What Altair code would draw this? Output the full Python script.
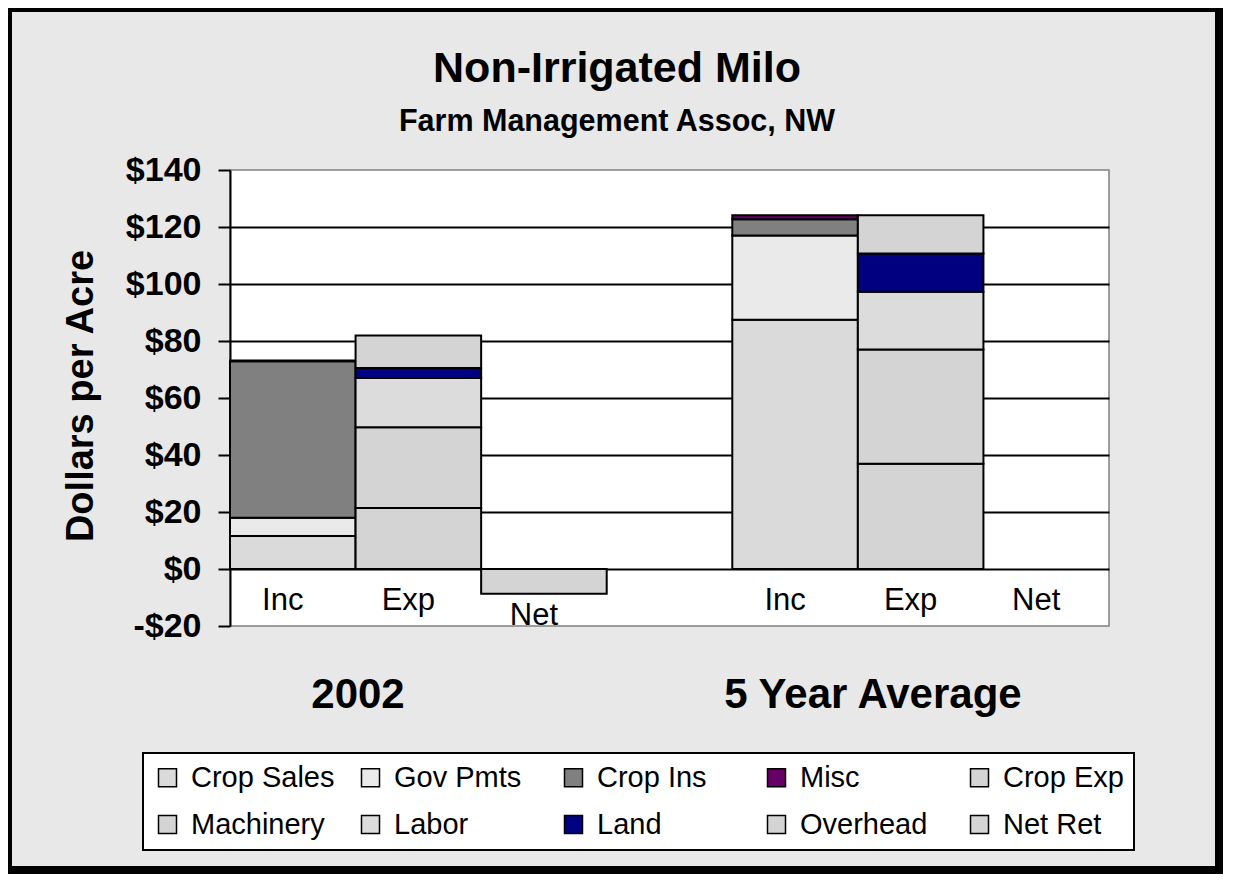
import altair as alt
import pandas as pd

FONT = "Liberation Sans"

# ---- data ----
periods = ["2002", "5 Year Average"]
bar_kinds = ["Inc", "Exp", "Net"]

crop_sales = [11.6, 87.5]
gov_pmts = [6.4, 29.5]
crop_ins = [54.9, 5.7]
misc = [0.3, 1.4]
crop_exp = [21.4, 36.9]
machinery = [28.3, 40.1]
labor = [17.3, 20.3]
land = [3.5, 13.4]
overhead = [11.4, 13.4]
net_ret = [-8.7, 0.0]

series_names = ["Crop Sales", "Gov Pmts", "Crop Ins", "Misc", "Crop Exp",
                "Machinery", "Labor", "Land", "Overhead", "Net Ret"]
series_kind = ["Inc", "Inc", "Inc", "Inc", "Exp", "Exp", "Exp", "Exp", "Exp", "Net"]
series_values = [crop_sales, gov_pmts, crop_ins, misc, crop_exp,
                 machinery, labor, land, overhead, net_ret]
series_colors = ["#DADADA", "#EAEAEA", "#808080", "#660066", "#D4D4D4",
                 "#D4D4D4", "#DCDCDC", "#000080", "#D4D4D4", "#D4D4D4"]

y_ticks = [-20, 0, 20, 40, 60, 80, 100, 120, 140]

title_text = "Non-Irrigated Milo"
subtitle_text = "Farm Management Assoc, NW"
y_title = "Dollars per Acre"

# ---- build tables ----
slots = []
for i, p in enumerate(periods):
    for k in bar_kinds:
        slots.append(f"{p} {k}")
    if i == 0:
        slots.append("gap")

rows = []
for i, p in enumerate(periods):
    for j, (name, kind, vals) in enumerate(zip(series_names, series_kind, series_values)):
        rows.append({"slot": f"{p} {kind}", "kind": kind, "series": name,
                     "value": vals[i], "ord": j})
df = pd.DataFrame(rows)

W, H = 879, 456
PADL, PADT = 222, 162

y_scale = alt.Scale(domain=[-20, 140], nice=False, zero=False)


def x_enc():
    return alt.X("slot:N", scale=alt.Scale(domain=slots, paddingInner=0, paddingOuter=0), axis=None)


bars = alt.Chart(df).transform_filter("datum.value != 0").mark_bar(
    stroke="black", strokeWidth=2
).encode(
    x=x_enc(),
    y=alt.Y("value:Q", scale=y_scale, stack="zero",
            axis=alt.Axis(values=y_ticks, title=None,
                          labelExpr="datum.value < 0 ? '-$' + abs(datum.value) : '$' + datum.value",
                          labelFont=FONT, labelFontSize=34, labelFontWeight="bold",
                          labelColor="black", labelPadding=17,
                          tickSize=12, tickColor="black", tickWidth=2,
                          domainColor="black", domainWidth=2,
                          grid=True, gridColor="black", gridWidth=2,
                          gridOpacity={"condition": {"test": "datum.value == 140 || datum.value == -20", "value": 0}, "value": 1})),
    color=alt.Color("series:N",
                    scale=alt.Scale(domain=series_names, range=series_colors),
                    legend=alt.Legend(orient="none", legendX=-87, legendY=583, columns=5,
                                      direction="horizontal", gridAlign="all",
                                      columnPadding=21, rowPadding=17, padding=10,
                                      fillColor="white", strokeColor="black",
                                      symbolType="square", symbolSize=324,
                                      symbolStrokeColor="black", symbolStrokeWidth=1.5,
                                      labelFont=FONT, labelFontSize=29, labelOffset=9,
                                      labelLimit=300, labelColor="black", title=None)),
    order=alt.Order("ord:Q"),
)

# category labels sit under the zero line / under a negative bar, kept inside the plot
labels = alt.Chart(df).transform_calculate(
    neg="min(datum.value, 0)"
).transform_aggregate(
    neg_sum="sum(neg)", groupby=["slot", "kind"]
).transform_calculate(
    lab_y="max(datum.neg_sum - 14.4, -19.7)"
).mark_text(font=FONT, fontSize=31, color="black", baseline="alphabetic", dx=-10).encode(
    x=x_enc(),
    y=alt.Y("lab_y:Q", scale=y_scale),
    text="kind:N",
)

one = pd.DataFrame({"t": [0]})
frame = alt.Chart(one).mark_rect(fillOpacity=0, stroke="black", strokeWidth=8).encode(
    x=alt.value(-PADL), x2=alt.value(1211 - PADL),
    y=alt.value(-PADT), y2=alt.value(862 - PADT),
)

title = alt.Chart(pd.DataFrame({"t": [title_text]})).mark_text(
    font=FONT, fontSize=43, fontWeight="bold", color="black", baseline="alphabetic", align="center"
).encode(x=alt.value(387), y=alt.value(-88), text="t:N")

subtitle = alt.Chart(pd.DataFrame({"t": [subtitle_text]})).mark_text(
    font=FONT, fontSize=30.5, fontWeight="bold", color="black", baseline="alphabetic", align="center"
).encode(x=alt.value(387), y=alt.value(-39), text="t:N")

ytitle = alt.Chart(pd.DataFrame({"t": [y_title]})).mark_text(
    font=FONT, fontSize=38, fontWeight="bold", color="black", baseline="alphabetic",
    align="center", angle=270
).encode(x=alt.value(-137), y=alt.value(226), text="t:N")

g1 = alt.Chart(pd.DataFrame({"t": [periods[0]]})).mark_text(
    font=FONT, fontSize=42, fontWeight="bold", color="black", baseline="alphabetic", align="center"
).encode(x=alt.value(128), y=alt.value(538), text="t:N")

g2 = alt.Chart(pd.DataFrame({"t": [periods[1]]})).mark_text(
    font=FONT, fontSize=42, fontWeight="bold", color="black", baseline="alphabetic", align="center"
).encode(x=alt.value(643), y=alt.value(538), text="t:N")

chart = alt.layer(frame, bars, labels, title, subtitle, ytitle, g1, g2).properties(
    width=W, height=H,
    autosize=alt.AutoSizeParams(type="none"),
    padding={"left": PADL, "top": PADT, "right": 1215 - PADL - W, "bottom": 866 - PADT - H},
).configure(background="#E8E8E8").configure_view(
    stroke="#808080", strokeWidth=1.5, fill="white"
).configure_legend(strokeWidth=2)

chart.save("out.html", embed_options={"renderer": "svg", "actions": False})
